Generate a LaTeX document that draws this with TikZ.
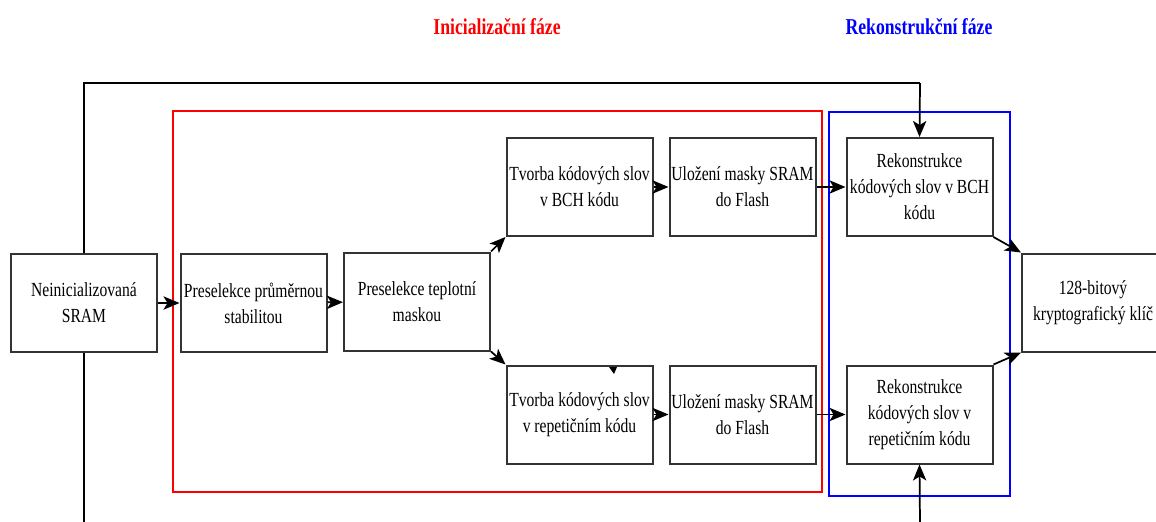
\documentclass[tikz,border=0pt]{standalone}
\usepackage{fontspec}
\setmainfont{Liberation Serif}[FakeStretch=0.78]
\usetikzlibrary{arrows.meta}
\definecolor{boxline}{HTML}{333333}
\definecolor{phasered}{HTML}{FF0000}
\definecolor{phaseblue}{HTML}{0000FF}
\tikzset{
  px/.style={x=0.75pt,y=-0.75pt},
  stepbox/.style={draw=boxline,line width=1.5pt,fill=white,minimum width=109.5pt,
    minimum height=73.5pt,align=center,inner sep=0pt,
    font=\fontsize{15}{19.5}\selectfont},
  flow/.style={draw=black,line width=1.3pt,-{Stealth[length=12pt,width=10pt,inset=3pt]}},
  plain/.style={draw=black,line width=1.3pt},
  phase/.style={line width=1.2pt},
  phasetitle/.style={font=\fontsize{17}{20}\selectfont\bfseries}
}
\begin{document}
\begin{tikzpicture}[px]
\useasboundingbox (0,0) rectangle (1156,521);

% phase frames
\draw[phase,draw=phasered] (173,111) rectangle (822,492);
\draw[phase,draw=phaseblue] (829,112) rectangle (1010,496);
\node[phasetitle,text=phasered] (tInit) at (497,27) {Inicializační fáze};
\node[phasetitle,text=phaseblue] (tRek) at (919,27) {Rekonstrukční fáze};

% blocks
\node[stepbox] (sram) at (84,303) {Neinicializovaná\\SRAM};
\node[stepbox] (pre1) at (253.5,303) {Preselekce průměrnou\\stabilitou};
\node[stepbox] (pre2) at (417,301.5) {Preselekce teplotní\\maskou};
\node[stepbox] (tvB) at (579.5,187) {Tvorba kódových slov\\v BCH kódu};
\node[stepbox] (ulB) at (742.5,187) {Uložení masky SRAM\\do Flash};
\node[stepbox] (tvR) at (579.5,414.5) {Tvorba kódových slov\\v repetičním kódu};
\node[stepbox] (ulR) at (742.5,414.5) {Uložení masky SRAM\\do Flash};
\node[stepbox] (rkB) at (919.5,187) {Rekonstrukce\\kódových slov v BCH\\kódu};
\node[stepbox] (rkR) at (919.5,414.5) {Rekonstrukce\\kódových slov v\\repetičním kódu};
\node[stepbox,minimum width=106.5pt] (key) at (1093,302.5) {128-bitový\\kryptografický klíč};

% feedback lines leaving the page
\coordinate (loopTopL) at (84,83);
\coordinate (loopTopR) at (920,83);
\coordinate (loopBotL) at (84,525);
\coordinate (loopBotR) at (920,525);
\draw[plain] (sram.north) -- (loopTopL) -- (loopTopR);
\draw[flow] (loopTopR) -- (rkB.north);
\draw[plain] (sram.south) -- (loopBotL);
\draw[flow] (loopBotR) -- (rkR.south);

% main flow
\draw[flow] (sram) -- (pre1);
\draw[flow] (pre1) -- (pre2);
\draw[flow] (pre2.north east) -- (tvB.south west);
\draw[flow] (pre2.south east) -- (tvR.north west);
\draw[flow] (tvB) -- (ulB);
\draw[flow] (ulB) -- (rkB);
\draw[flow] (tvR) -- (ulR);
\draw[flow] (ulR) -- (rkR);
\draw[flow] (rkB.south east) -- (key.north west);
\draw[flow] (rkR.north east) -- (key.south west);

% small stray tip on the lower codeword block
\coordinate (stray) at (613,367);
\fill[black] (stray) ++(-4,0) -- ++(8,0) -- ++(-3,7) -- cycle;
\end{tikzpicture}
\end{document}
